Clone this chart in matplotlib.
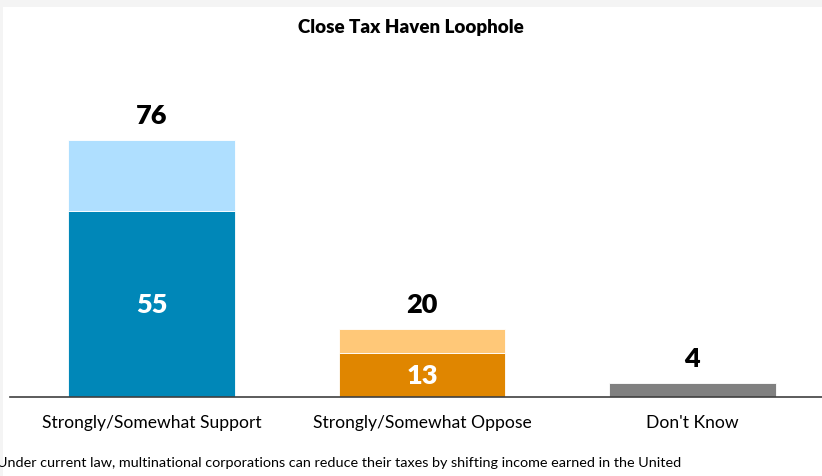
import numpy as np
import matplotlib
matplotlib.use("Agg")
import matplotlib.pyplot as plt
from matplotlib.patches import Rectangle

plt.rcParams['font.family'] = ['Lato', 'DejaVu Sans']

# data
categories = ["Strongly/Somewhat Support", "Strongly/Somewhat Oppose", "Don't Know"]
totals = [76, 20, 4]
strongly = [55, 13, None]

title = "Close Tax Haven Loophole"
footnote = "Under current law, multinational corporations can reduce their taxes by shifting income earned in the United"

dark_colors = ["#0087B8", "#E08600", "#808080"]
light_colors = ["#AFDFFF", "#FFC878", "#808080"]

W, H = 822, 477
fig = plt.figure(figsize=(W / 100, H / 100), dpi=100, facecolor="#f4f4f4")
fig.patches.append(Rectangle((3 / W, 0), 1, (H - 8) / H, transform=fig.transFigure,
                             facecolor="white", edgecolor="none", zorder=-10))

ax = fig.add_axes([10 / W, (H - 398) / H, 812 / W, 338 / H])
ax.set_facecolor("none")

x = np.arange(len(categories))
width = 0.617

for i in range(len(categories)):
  if strongly[i] is None:
    ax.bar(x[i], totals[i], width, color=dark_colors[i], edgecolor="white", linewidth=0.6)
  else:
    ax.bar(x[i], strongly[i], width, color=dark_colors[i], edgecolor="white", linewidth=0.6)
    ax.bar(x[i], totals[i] - strongly[i], width, bottom=strongly[i],
           color=light_colors[i], edgecolor="white", linewidth=0.6)
    ax.text(x[i], strongly[i] / 2, str(strongly[i]), ha="center", va="center",
            color="white", fontsize=19.5, fontweight="heavy")
  ax.text(x[i], totals[i] + 7.5, str(totals[i]), ha="center", va="center",
          color="black", fontsize=19.5, fontweight="heavy")

ax.set_xlim(-0.523, 2.479)
ax.set_ylim(0, 100)
ax.set_xticks(x)
ax.set_xticklabels(categories, fontsize=12.6)
ax.tick_params(axis="x", length=0, pad=12)
ax.set_yticks([])
for s in ["top", "right", "left"]:
  ax.spines[s].set_visible(False)
ax.spines["bottom"].set_color("#404040")
ax.spines["bottom"].set_linewidth(1.2)

fig.text(411 / W, 1 - 28 / H, title, ha="center", va="center", fontsize=13.5, fontweight="heavy")
fig.text(-3 / W, 1 - 463 / H, footnote, ha="left", va="center", fontsize=10.4)

fig.savefig("out.png", dpi=100, facecolor=fig.get_facecolor())
